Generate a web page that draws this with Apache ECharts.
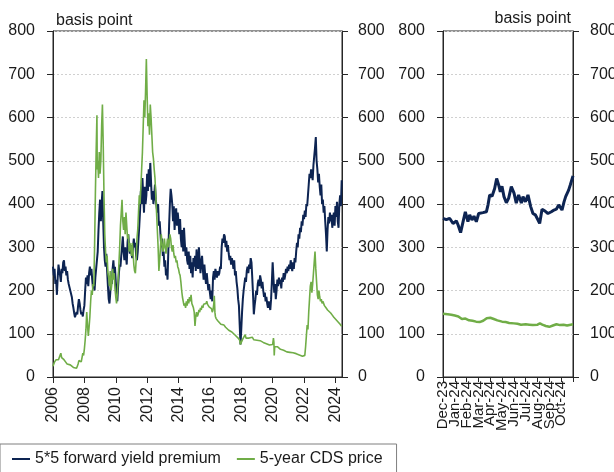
<!DOCTYPE html>
<html>
<head>
<meta charset="utf-8">
<script src="https://cdn.jsdelivr.net/npm/echarts@6/dist/echarts.min.js"></script>
<style>
html,body{margin:0;padding:0;background:#fff;}
#chart{width:614px;height:472px;}
</style>
</head>
<body>
<div id="chart"></div>
<script>
// ---- Data ----
const seriesNames = ['5*5 forward yield premium', '5-year CDS price'];
const unitLabel = 'basis point';
const monthLabels = ['Dec-23','Jan-24','Feb-24','Mar-24','Apr-24','May-24','Jun-24','Jul-24','Aug-24','Sep-24','Oct-24',''];

const fwdYears = [2006.0,2006.05,2006.1,2006.15,2006.2,2006.25,2006.3,2006.35,2006.4,2006.45,2006.5,2006.55,2006.6,2006.65,2006.7,2006.75,2006.8,2006.85,2006.9,2006.95,
2007.0,2007.1,2007.2,2007.25,2007.3,2007.35,2007.4,2007.45,2007.5,2007.55,2007.6,2007.65,2007.7,2007.75,2007.8,2007.85,2007.9,2007.95,
2008.0,2008.05,2008.1,2008.15,2008.2,2008.25,2008.3,2008.35,2008.4,2008.45,2008.5,2008.55,2008.6,2008.65,2008.7,2008.75,2008.8,2008.85,2008.9,2008.95,
2009.0,2009.05,2009.1,2009.15,2009.2,2009.25,2009.3,2009.35,2009.4,2009.45,2009.5,2009.55,2009.6,2009.65,2009.7,2009.75,2009.8,2009.85,2009.9,2009.95,
2010.0,2010.05,2010.1,2010.15,2010.2,2010.25,2010.3,2010.35,2010.4,2010.45,2010.5,2010.55,2010.6,2010.65,2010.7,2010.75,2010.8,2010.85,2010.9,2010.95,
2011.0,2011.05,2011.1,2011.15,2011.2,2011.25,2011.3,2011.35,2011.4,2011.45,2011.5,2011.55,2011.6,2011.65,2011.7,2011.75,2011.8,2011.85,2011.9,2011.95,
2012.0,2012.05,2012.1,2012.15,2012.2,2012.25,2012.3,2012.35,2012.4,2012.45,2012.5,2012.55,2012.6,2012.65,2012.7,2012.75,2012.8,2012.85,2012.9,2012.95,
2013.0,2013.05,2013.1,2013.15,2013.2,2013.25,2013.3,2013.35,2013.4,2013.45,2013.5,2013.55,2013.6,2013.65,2013.7,2013.75,2013.8,2013.85,2013.9,2013.95,
2014.0,2014.05,2014.1,2014.15,2014.2,2014.25,2014.3,2014.35,2014.4,2014.45,2014.5,2014.55,2014.6,2014.65,2014.7,2014.75,2014.8,2014.85,2014.9,2014.95,
2015.0,2015.05,2015.1,2015.15,2015.2,2015.25,2015.3,2015.35,2015.4,2015.45,2015.5,2015.55,2015.6,2015.65,2015.7,2015.75,2015.8,2015.85,2015.9,2015.95,
2016.0,2016.05,2016.1,2016.15,2016.2,2016.25,2016.3,2016.35,2016.4,2016.45,2016.5,2016.55,2016.6,2016.65,2016.7,2016.75,2016.8,2016.85,2016.9,2016.95,
2017.0,2017.05,2017.1,2017.15,2017.2,2017.25,2017.3,2017.35,2017.4,2017.45,2017.5,2017.55,2017.6,2017.65,2017.7,2017.75,2017.8,2017.85,2017.9,2017.95,
2018.0,2018.05,2018.1,2018.15,2018.2,2018.25,2018.3,2018.35,2018.4,2018.45,2018.5,2018.55,2018.6,2018.65,2018.7,2018.75,2018.8,2018.85,2018.9,2018.95,
2019.0,2019.05,2019.1,2019.15,2019.2,2019.25,2019.3,2019.35,2019.4,2019.45,2019.5,2019.55,2019.6,2019.65,2019.7,2019.75,2019.8,2019.85,2019.9,2019.95,
2020.0,2020.05,2020.1,2020.15,2020.2,2020.25,2020.3,2020.35,2020.4,2020.45,2020.5,2020.55,2020.6,2020.65,2020.7,2020.75,2020.8,2020.85,2020.9,2020.95,
2021.0,2021.05,2021.1,2021.15,2021.2,2021.25,2021.3,2021.35,2021.4,2021.45,2021.5,2021.55,2021.6,2021.65,2021.7,2021.75,2021.8,2021.85,2021.9,2021.95,
2022.0,2022.05,2022.1,2022.15,2022.2,2022.25,2022.3,2022.35,2022.4,2022.45,2022.5,2022.55,2022.6,2022.65,2022.7,2022.75,2022.8,2022.85,2022.9,2022.95,
2023.0,2023.05,2023.1,2023.15,2023.2,2023.25,2023.3,2023.35,2023.4,2023.45,2023.5,2023.55,2023.6,2023.65,2023.7,2023.75,2023.8,2023.85,2023.9,2023.95,
2024.0,2024.05,2024.1,2024.15,2024.2,2024.25,2024.3,2024.35,2024.4];
const fwdPremium = [255,235,250,215,225,190,230,260,245,235,220,250,240,265,270,245,255,235,245,225,
215,200,185,170,160,148,138,135,150,145,165,180,170,155,145,150,140,155,
165,200,230,215,235,210,240,255,235,250,225,205,210,200,230,250,270,290,340,380,
410,360,400,430,360,300,270,255,285,245,210,180,170,195,230,215,250,270,240,255,
220,200,175,210,240,260,255,280,300,325,290,270,300,280,260,310,330,300,285,305,
290,275,300,320,300,310,280,270,290,320,350,385,430,400,460,420,380,440,400,420,
470,430,480,440,495,450,410,430,400,420,445,410,395,380,400,350,360,330,300,320,
280,290,255,270,235,250,225,290,350,400,435,420,400,360,395,340,380,390,350,380,
360,330,365,320,300,340,290,345,310,280,300,270,260,290,250,280,240,265,230,275,
255,280,245,295,260,250,300,270,240,265,280,250,225,260,235,215,240,220,200,215,
195,180,200,175,230,245,225,250,240,230,245,235,240,255,250,300,320,310,330,325,
300,315,290,305,285,270,280,260,275,265,250,270,235,245,220,205,180,165,120,75,
110,150,180,200,215,230,220,245,255,240,260,250,275,265,230,190,145,165,180,200,
190,215,225,210,235,225,205,220,200,185,195,175,185,170,160,175,165,155,180,220,
265,230,195,215,180,200,225,210,230,215,225,205,230,220,240,225,235,250,240,255,
245,260,250,270,255,245,265,250,275,265,290,310,300,330,320,345,335,360,350,375,
365,385,370,400,395,420,445,470,460,480,470,455,490,510,530,555,500,480,450,470,
440,420,445,400,410,380,395,360,330,290,340,370,355,380,360,375,345,365,380,350,
395,370,405,360,345,400,420,395,455];

const cdsYears = [2006.0,2006.05,2006.1,2006.15,2006.2,2006.25,2006.3,2006.35,2006.4,2006.45,2006.5,2006.55,2006.6,2006.65,2006.7,2006.75,2006.8,2006.85,2006.9,
2007.0,2007.1,2007.2,2007.3,2007.4,2007.5,2007.55,2007.6,2007.65,2007.7,2007.75,2007.8,2007.85,2007.9,2007.95,
2008.0,2008.05,2008.1,2008.15,2008.2,2008.25,2008.3,2008.35,2008.4,2008.45,2008.5,2008.55,2008.6,2008.65,2008.7,2008.75,2008.8,2008.82,2008.85,2008.9,2008.95,
2009.0,2009.05,2009.1,2009.15,2009.2,2009.25,2009.3,2009.35,2009.4,2009.45,2009.5,2009.55,2009.6,2009.65,2009.7,2009.75,2009.8,2009.85,2009.9,2009.95,
2010.0,2010.05,2010.1,2010.15,2010.2,2010.25,2010.3,2010.35,2010.4,2010.45,2010.5,2010.55,2010.6,2010.65,2010.7,2010.75,2010.8,2010.85,2010.9,2010.95,
2011.0,2011.05,2011.1,2011.15,2011.2,2011.25,2011.3,2011.35,2011.4,2011.45,2011.5,2011.55,2011.6,2011.65,2011.7,2011.75,2011.8,2011.85,2011.9,2011.95,
2012.0,2012.05,2012.1,2012.15,2012.2,2012.25,2012.3,2012.35,2012.4,2012.45,2012.5,2012.55,2012.6,2012.65,2012.7,2012.75,2012.8,2012.85,2012.9,2012.95,
2013.0,2013.05,2013.1,2013.15,2013.2,2013.25,2013.3,2013.35,2013.4,2013.45,2013.5,2013.55,2013.6,2013.65,2013.7,2013.75,2013.8,2013.85,2013.9,2013.95,
2014.0,2014.05,2014.1,2014.15,2014.2,2014.25,2014.3,2014.35,2014.4,2014.45,2014.5,2014.55,2014.6,2014.65,2014.7,2014.75,2014.8,2014.85,2014.9,2014.95,
2015.0,2015.05,2015.1,2015.15,2015.2,2015.25,2015.3,2015.35,2015.4,2015.45,2015.5,2015.55,2015.6,2015.65,2015.7,2015.75,2015.8,2015.85,2015.9,2015.95,
2016.0,2016.05,2016.1,2016.15,2016.2,2016.25,2016.28,2016.32,2016.35,2016.4,2016.45,2016.5,2016.6,2016.7,2016.8,2016.9,
2017.0,2017.1,2017.2,2017.3,2017.4,2017.5,2017.6,2017.7,2017.8,2017.9,2017.95,
2018.0,2018.1,2018.2,2018.25,2018.3,2018.4,2018.5,2018.6,2018.7,2018.8,2018.9,
2019.0,2019.1,2019.2,2019.3,2019.4,2019.5,2019.6,2019.7,2019.8,2019.9,
2020.0,2020.05,2020.08,2020.1,2020.13,2020.2,2020.3,2020.4,2020.5,2020.6,2020.7,2020.8,2020.9,
2021.0,2021.1,2021.2,2021.3,2021.4,2021.5,2021.6,2021.7,2021.8,2021.9,2021.95,
2022.0,2022.05,2022.1,2022.15,2022.2,2022.25,2022.3,2022.35,2022.4,2022.45,2022.5,2022.55,2022.6,2022.65,2022.7,2022.75,2022.8,2022.85,2022.9,2022.95,
2023.0,2023.05,2023.1,2023.15,2023.2,2023.3,2023.4,2023.5,2023.6,2023.7,2023.8,2023.9,
2024.0,2024.1,2024.2,2024.3,2024.4];
const cdsPrice = [25,30,35,33,40,38,42,40,45,50,55,45,48,42,40,37,35,32,30,
30,28,25,22,18,20,25,30,38,35,40,35,45,55,50,
65,85,110,150,120,95,115,140,175,200,190,215,210,300,420,520,605,480,500,460,520,
470,500,580,630,540,420,330,290,265,280,240,230,210,245,200,215,250,225,240,205,
185,170,195,225,260,300,350,380,410,360,340,370,330,380,350,320,330,290,310,300,
280,310,290,260,245,240,270,320,340,380,420,400,440,480,520,580,640,600,660,735,
650,580,610,560,630,600,560,520,505,480,460,420,380,340,300,245,270,300,330,310,
290,300,320,300,285,305,320,300,310,330,320,300,290,305,285,275,280,265,270,255,
250,240,235,220,200,185,175,165,170,160,175,165,180,170,185,175,190,170,165,160,
150,118,140,150,140,145,155,150,160,155,165,160,168,172,165,170,175,168,170,162,
160,165,158,150,155,170,188,150,140,135,138,130,128,122,118,120,
115,112,108,110,104,100,97,95,90,85,75,
80,88,92,98,90,94,90,88,92,86,88,
85,87,84,82,80,79,77,76,74,72,
75,90,80,50,70,72,70,66,64,62,62,60,58,
60,57,58,56,55,54,53,51,52,48,46,
52,50,70,95,120,110,150,180,210,220,195,215,240,265,290,250,220,190,180,200,
185,175,180,170,175,165,160,155,152,148,143,138,
135,130,126,122,117];

// months since Dec-2023
const recentFwdMonths = [0,0.28,0.56,0.85,1.13,1.27,1.49,1.69,1.89,2.11,2.26,2.45,2.62,2.82,3.02,3.38,3.67,3.81,3.95,4.15,4.37,4.54,4.71,4.85,4.99,5.16,5.36,5.55,5.78,6.01,6.2,6.4,6.63,6.77,6.97,7.19,7.42,7.61,7.81,8.04,8.18,8.38,8.66,8.88,9.17,9.39,9.59,9.79,10.07,10.24,10.38,10.52,10.63,10.77,10.91,11];
const recentFwd = [367,364,367,355,361,352,334,358,382,359,375,363,372,359,378,380,382,398,421,418,436,459,444,428,441,417,403,413,440,425,402,421,402,417,405,421,394,378,375,363,355,388,383,378,382,386,388,398,386,405,417,415,432,444,448,465];
const recentCdsMonths = [0,0.4,0.7,1.0,1.3,1.6,1.9,2.2,2.5,2.8,3.1,3.4,3.7,3.8,4.0,4.3,4.6,5.0,5.3,5.6,6.0,6.3,6.6,7.0,7.3,7.6,8.0,8.2,8.4,8.7,9.0,9.3,9.6,9.9,10.2,10.5,10.8,11];
const recentCds = [146,145,144,142,140,134,135,131,130,128,127,130,136,140,137,134,131,128,127,125,124,123,121,122,121,120,121,124,121,118,116,119,122,120,121,119,121,122];

// ---- Chart ----
const FONT = 'Liberation Sans';
const TXT = '#1a1a1a';
const BLUE = '#0d2452';
const GREEN = '#70ad47';
const zip = (xs, ys) => xs.map((x, i) => [x, ys[i]]);

const yCommon = {
  type: 'value', min: 0, max: 800, interval: 100,
  axisLine: {show: true, lineStyle: {color: '#262626', width: 1}},
  axisTick: {show: true, inside: false, length: 6, lineStyle: {color: '#262626'}},
  axisLabel: {color: TXT, fontFamily: FONT, fontSize: 16, margin: 18},
  splitLine: {show: false}
};
const gridSplit = {show: true, lineStyle: {color: '#d0d0d0', type: [2, 2], width: 1}};

const chart = echarts.init(document.getElementById('chart'), null, {renderer: 'canvas'});
chart.setOption({
  animation: false,
  backgroundColor: '#fff',
  textStyle: {fontFamily: FONT},
  title: [
    {text: unitLabel, left: 51, top: 8, textStyle: {fontFamily: FONT, fontSize: 16, fontWeight: 'normal', color: TXT}},
    {text: unitLabel, right: 38, top: 6, textStyle: {fontFamily: FONT, fontSize: 16, fontWeight: 'normal', color: TXT}}
  ],
  legend: {
    data: seriesNames,
    left: 0, top: 444,
    icon: 'rect', itemWidth: 18, itemHeight: 2, itemGap: 16,
    padding: [7, 14, 12, 12],
    borderColor: '#7f7f7f', borderWidth: 1,
    textStyle: {fontFamily: FONT, fontSize: 16, color: TXT}
  },
  grid: [
    {left: 53, top: 31, width: 289, height: 346, show: true, borderColor: '#262626', borderWidth: 1, containLabel: false, outerBoundsMode: 'none'},
    {left: 443, top: 31, width: 130, height: 346, show: true, borderColor: '#262626', borderWidth: 1, containLabel: false, outerBoundsMode: 'none'}
  ],
  xAxis: [
    {
      type: 'value', gridIndex: 0, position: 'bottom', min: 2006, max: 2024.42, interval: 2,
      axisLine: {show: true, onZero: false, lineStyle: {color: '#262626'}},
      axisTick: {show: true, length: 6, lineStyle: {color: '#262626'}},
      axisLabel: {rotate: 90, margin: 10, color: TXT, fontFamily: FONT, fontSize: 16, showMinLabel: true, showMaxLabel: false,
        formatter: v => (Math.abs(v - Math.round(v)) < 1e-6 && Math.round(v) % 2 === 0) ? String(Math.round(v)) : ''},
      splitLine: {show: false}
    },
    {
      type: 'value', gridIndex: 1, position: 'bottom', min: 0, max: 11, interval: 1,
      axisLine: {show: true, onZero: false, lineStyle: {color: '#262626'}},
      axisTick: {show: false},
      axisLabel: {show: false},
      splitLine: {show: false}
    },
    {
      type: 'category', gridIndex: 1, position: 'bottom', offset: 0, data: monthLabels, boundaryGap: false,
      axisLine: {show: true, onZero: false, lineStyle: {color: '#262626'}},
      axisTick: {show: true, length: 5, interval: 0, lineStyle: {color: '#262626'}},
      axisLabel: {rotate: 90, margin: 4, interval: 0, color: TXT, fontFamily: FONT, fontSize: 15},
      splitLine: {show: false}
    }
  ],
  yAxis: [
    Object.assign({}, yCommon, {gridIndex: 0, position: 'left', splitLine: gridSplit}),
    Object.assign({}, yCommon, {gridIndex: 0, position: 'right', axisLabel: Object.assign({}, yCommon.axisLabel, {margin: 16})}),
    Object.assign({}, yCommon, {gridIndex: 1, position: 'left', splitLine: gridSplit}),
    Object.assign({}, yCommon, {gridIndex: 1, position: 'right', axisLabel: Object.assign({}, yCommon.axisLabel, {margin: 17})})
  ],
  series: [
    {name: seriesNames[0], type: 'line', xAxisIndex: 0, yAxisIndex: 0, data: zip(fwdYears, fwdPremium),
      showSymbol: false, lineStyle: {color: BLUE, width: 2}, itemStyle: {color: BLUE}, z: 3},
    {name: seriesNames[1], type: 'line', xAxisIndex: 0, yAxisIndex: 0, data: zip(cdsYears, cdsPrice),
      showSymbol: false, lineStyle: {color: GREEN, width: 1.6}, itemStyle: {color: GREEN}, z: 4},
    {name: seriesNames[0], type: 'line', xAxisIndex: 1, yAxisIndex: 2, data: zip(recentFwdMonths, recentFwd),
      showSymbol: false, lineStyle: {color: BLUE, width: 3}, itemStyle: {color: BLUE}},
    {name: seriesNames[1], type: 'line', xAxisIndex: 1, yAxisIndex: 2, data: zip(recentCdsMonths, recentCds),
      showSymbol: false, lineStyle: {color: GREEN, width: 2.5}, itemStyle: {color: GREEN}}
  ]
});
</script>
</body>
</html>
